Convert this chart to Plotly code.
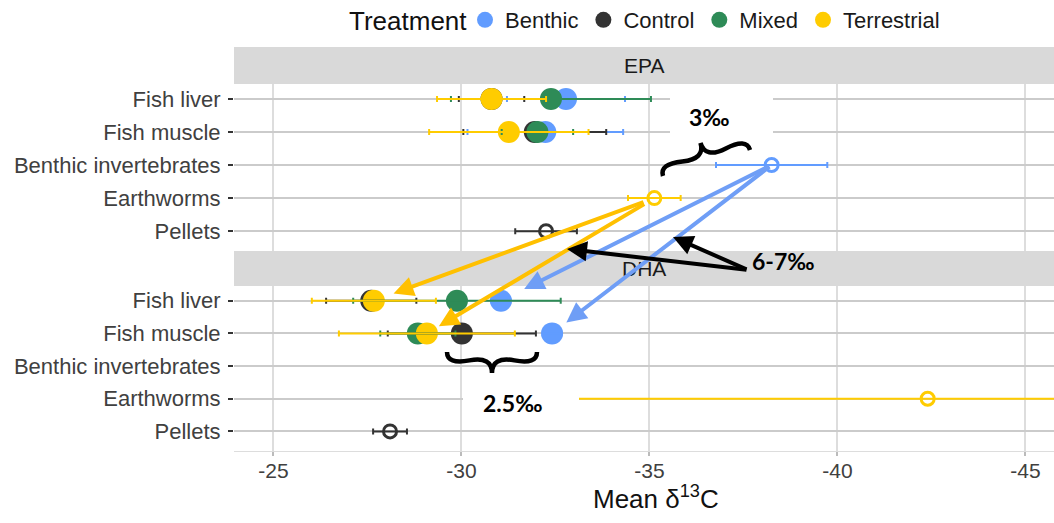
import plotly.graph_objects as go
from plotly.subplots import make_subplots

# ---------------- data ----------------
samples = ["Fish liver", "Fish muscle", "Benthic invertebrates", "Earthworms", "Pellets"]
prey_samples = ["Benthic invertebrates", "Earthworms", "Pellets"]
treatments = ["Benthic", "Control", "Mixed", "Terrestrial"]
facets = ["EPA", "DHA"]
x_ticks = [-25, -30, -35, -40, -45]
x_tick_labels = ["-25", "-30", "-35", "-40", "-45"]

epa_sample = ["Fish liver", "Fish liver", "Fish liver", "Fish liver",
              "Fish muscle", "Fish muscle", "Fish muscle", "Fish muscle",
              "Benthic invertebrates", "Earthworms", "Pellets"]
epa_treatment = ["Benthic", "Control", "Mixed", "Terrestrial",
                 "Benthic", "Control", "Mixed", "Terrestrial",
                 "Benthic", "Terrestrial", "Control"]
epa_mean = [-32.78, -30.80, -32.38, -30.80,
            -32.23, -31.95, -32.02, -31.26,
            -38.25, -35.13, -32.25]
epa_err = [1.57, 0.87, 2.66, 1.45,
           2.07, 1.90, 0.95, 2.12,
           1.48, 0.70, 0.82]

dha_sample = ["Fish liver", "Fish liver", "Fish liver", "Fish liver",
              "Fish muscle", "Fish muscle", "Fish muscle", "Fish muscle",
              "Earthworms", "Pellets"]
dha_treatment = ["Benthic", "Control", "Mixed", "Terrestrial",
                 "Benthic", "Control", "Mixed", "Terrestrial",
                 "Terrestrial", "Control"]
dha_mean = [-31.05, -27.60, -29.88, -27.67,
            -32.41, -30.01, -28.84, -29.08,
            -42.40, -28.10]
dha_err = [0.25, 1.20, 2.76, 1.65,
           0.25, 1.97, 1.00, 2.34,
           9.40, 0.45]

# arrows: (source sample, source treatment) in EPA -> (target sample, target treatment) in DHA
arrow_src_sample = ["Earthworms", "Earthworms", "Benthic invertebrates", "Benthic invertebrates"]
arrow_src_treat = ["Terrestrial", "Terrestrial", "Benthic", "Benthic"]
arrow_dst_sample = ["Fish liver", "Fish muscle", "Fish liver", "Fish muscle"]
arrow_dst_treat = ["Terrestrial", "Terrestrial", "Benthic", "Benthic"]

# ---------------- style ----------------
colors = {"Benthic": "#619CFF", "Control": "#333333", "Mixed": "#2E8B57", "Terrestrial": "#FFCC00"}
arrow_colors = {"Benthic": "#6F9EF6", "Terrestrial": "#FFC000"}
arrow_standoff = [21, 14, 26, 18]
arrow_startstandoff = [10, 10, 1, 1]

W, H = 1054, 523
L, R, T, B = 234, 0, 47, 72
PW, PH = W - L - R, H - T - B
strip_px = [(47, 84), (251, 286)]
panel_px = [(84, 251), (286, 451)]
YR = [4.6, -0.45]
XR = [-23.95, -45.76]
FONT = "Liberation Sans, Arial, sans-serif"
BOLD = "Lato, Open Sans, sans-serif"


def fx(px):
    return (px - L) / PW


def fy(py):
    return (H - B - py) / PH


def y_to_px(v, row):
    top, bot = panel_px[row]
    return top + (v - YR[1]) / (YR[0] - YR[1]) * (bot - top)


def px_to_y(py, row):
    top, bot = panel_px[row]
    return YR[1] + (py - top) / (bot - top) * (YR[0] - YR[1])


fig = make_subplots(rows=2, cols=1, shared_xaxes=True, vertical_spacing=0.05)

data = {
    "EPA": (epa_sample, epa_treatment, epa_mean, epa_err),
    "DHA": (dha_sample, dha_treatment, dha_mean, dha_err),
}

# points first
for r, facet in enumerate(facets):
    s_, t_, m_, e_ = data[facet]
    for tr in treatments:
        fill_x = [m for s, t, m in zip(s_, t_, m_) if t == tr and s not in prey_samples]
        fill_y = [samples.index(s) for s, t in zip(s_, t_) if t == tr and s not in prey_samples]
        open_x = [m for s, t, m in zip(s_, t_, m_) if t == tr and s in prey_samples]
        open_y = [samples.index(s) for s, t in zip(s_, t_) if t == tr and s in prey_samples]
        fig.add_trace(go.Scatter(
            x=fill_x, y=fill_y, mode="markers", name=tr, legendgroup=tr,
            showlegend=(r == 0),
            marker=dict(symbol="circle", size=22, color=colors[tr], line=dict(width=0)),
        ), row=r + 1, col=1)
        if open_x:
            fig.add_trace(go.Scatter(
                x=open_x, y=open_y, mode="markers", name=tr, legendgroup=tr,
                showlegend=False,
                marker=dict(symbol="circle-open", size=13, color=colors[tr], line=dict(width=3)),
            ), row=r + 1, col=1)

# error bars on top of points
for r, facet in enumerate(facets):
    s_, t_, m_, e_ = data[facet]
    for tr in treatments:
        xs = [m for t, m in zip(t_, m_) if t == tr]
        ys = [samples.index(s) for s, t in zip(s_, t_) if t == tr]
        es = [e for t, e in zip(t_, e_) if t == tr]
        fig.add_trace(go.Scatter(
            x=xs, y=ys, mode="markers", showlegend=False, hoverinfo="skip",
            marker=dict(size=1, opacity=0, color=colors[tr]),
            error_x=dict(type="data", array=es, color=colors[tr], thickness=2, width=3),
        ), row=r + 1, col=1)

# axes
for r in range(2):
    fig.update_yaxes(
        row=r + 1, col=1, range=YR, tickmode="array", tickvals=list(range(len(samples))),
        ticktext=samples, showgrid=True, gridcolor="#CBCBCB", gridwidth=2, zeroline=False,
        ticks="outside", ticklen=5, tickwidth=2, tickcolor="#333333",
        tickfont=dict(family=FONT, size=22, color="#404040"), showline=False,
        ticklabelstandoff=3, automargin=False,
    )
    fig.update_xaxes(
        row=r + 1, col=1, range=XR, tickmode="array", tickvals=x_ticks, ticktext=x_tick_labels,
        showgrid=True, gridcolor="#DDDDDD", gridwidth=1.5, zeroline=False, automargin=False,
    )
fig.update_xaxes(row=1, col=1, showticklabels=False, ticks="")
fig.update_xaxes(row=2, col=1, ticks="outside", ticklen=4, tickwidth=1.5, tickcolor="#BBBBBB",
                 showline=True, linecolor="#DDDDDD", linewidth=1,
                 tickfont=dict(family=FONT, size=21, color="#404040"), ticklabelstandoff=-3)
fig.update_layout(
    yaxis=dict(domain=[fy(panel_px[0][1]), fy(panel_px[0][0])]),
    yaxis2=dict(domain=[fy(panel_px[1][1]), fy(panel_px[1][0])]),
)

shapes = []
annotations = []
# facet strips
for r, facet in enumerate(facets):
    top, bot = strip_px[r]
    shapes.append(dict(type="rect", xref="paper", yref="paper", x0=0, x1=1, y0=fy(bot), y1=fy(top),
                       fillcolor="#D9D9D9", line=dict(width=0), layer="below"))
    annotations.append(dict(text=facet, xref="paper", yref="paper", x=0.5, y=fy((top + bot) / 2),
                            showarrow=False, font=dict(family=FONT, size=21, color="#1A1A1A"),
                            xanchor="center", yanchor="middle"))

# legend title and x-axis title
annotations.append(dict(text="Treatment", xref="paper", yref="paper", x=fx(469), y=fy(21),
                        showarrow=False, xanchor="right", yanchor="middle",
                        font=dict(family=FONT, size=26, color="#111111")))
annotations.append(dict(text="Mean δ<sup>13</sup>C", xref="paper", yref="paper", x=fx(656), y=fy(497),
                        showarrow=False, xanchor="center", yanchor="middle",
                        font=dict(family=FONT, size=26, color="#111111")))

# white label boxes
shapes.append(dict(type="rect", xref="paper", yref="paper", x0=fx(670), x1=fx(773), y0=fy(137), y1=fy(93),
                   fillcolor="white", line=dict(width=0), layer="above"))
shapes.append(dict(type="rect", xref="paper", yref="paper", x0=fx(463), x1=fx(579), y0=fy(420), y1=fy(384),
                   fillcolor="white", line=dict(width=0), layer="above"))


def brace_path(x1, y1, x2, y2, w, q=0.6):
    import math
    dx, dy = x1 - x2, y1 - y2
    ln = math.hypot(dx, dy)
    dx, dy = dx / ln, dy / ln
    qx1, qy1 = x1 + q * w * dy, y1 - q * w * dx
    qx2, qy2 = (x1 - .25 * ln * dx) + (1 - q) * w * dy, (y1 - .25 * ln * dy) - (1 - q) * w * dx
    tx1, ty1 = (x1 - .5 * ln * dx) + w * dy, (y1 - .5 * ln * dy) - w * dx
    qx3, qy3 = x2 + q * w * dy, y2 - q * w * dx
    qx4, qy4 = (x1 - .75 * ln * dx) + (1 - q) * w * dy, (y1 - .75 * ln * dy) - (1 - q) * w * dx

    def p(x, y):
        return f"{fx(x):.5f},{fy(y):.5f}"
    return (f"M {p(x1, y1)} Q {p(qx1, qy1)} {p(qx2, qy2)} T {p(tx1, ty1)} "
            f"M {p(x2, y2)} Q {p(qx3, qy3)} {p(qx4, qy4)} T {p(tx1, ty1)}")


shapes.append(dict(type="path", xref="paper", yref="paper", path=brace_path(750, 150, 663, 176, 21),
                   line=dict(color="black", width=4.5), layer="above"))
shapes.append(dict(type="path", xref="paper", yref="paper", path=brace_path(447, 352, 537, 352, 21),
                   line=dict(color="black", width=4.5), layer="above"))

# text labels
for txt, px, py in [("3‰", 709, 117), ("2.5‰", 512, 403), ("6-7‰", 783, 261)]:
    annotations.append(dict(text=f"<b>{txt}</b>", xref="paper", yref="paper", x=fx(px), y=fy(py),
                            showarrow=False, font=dict(family=BOLD, size=23, color="black"),
                            xanchor="center", yanchor="middle"))


def lookup(facet, sample, treat):
    s_, t_, m_, e_ = data[facet]
    for s, t, m in zip(s_, t_, m_):
        if s == sample and t == treat:
            return m
    return None


# coloured arrows EPA prey -> DHA fish tissue
for i in range(len(arrow_src_sample)):
    sx = lookup("EPA", arrow_src_sample[i], arrow_src_treat[i])
    sy_px = y_to_px(samples.index(arrow_src_sample[i]), 0)
    dx_ = lookup("DHA", arrow_dst_sample[i], arrow_dst_treat[i])
    dy_ = samples.index(arrow_dst_sample[i])
    annotations.append(dict(
        x=dx_, y=dy_, xref="x2", yref="y2", ax=sx, ay=px_to_y(sy_px, 1), axref="x2", ayref="y2",
        text="", showarrow=True, arrowhead=2, arrowsize=1.0, arrowwidth=4,
        arrowcolor=arrow_colors[arrow_src_treat[i]], standoff=arrow_standoff[i],
        startstandoff=arrow_startstandoff[i],
    ))

# black arrows from the 6-7‰ label
for hx, hy in [(567, 249), (673, 237)]:
    annotations.append(dict(
        x=fx(hx), y=fy(hy), xref="paper", yref="paper", ax=748 - hx, ay=270 - hy,
        text="", showarrow=True, arrowhead=2, arrowsize=1.0, arrowwidth=4, arrowcolor="black",
    ))

fig.update_layout(
    width=W, height=H, margin=dict(l=L, r=R, t=T, b=B, autoexpand=False), autosize=False,
    paper_bgcolor="white", plot_bgcolor="white",
    shapes=shapes, annotations=annotations,
    legend=dict(orientation="h", x=fx(465), xanchor="left", y=fy(20), yanchor="middle",
                font=dict(family=FONT, size=22, color="#1A1A1A"), bgcolor="rgba(0,0,0,0)",
                itemclick=False),
    hovermode=False,
)

fig.write_html("out.html", config={"displayModeBar": False},
               post_script="document.body.style.margin='0px';")
